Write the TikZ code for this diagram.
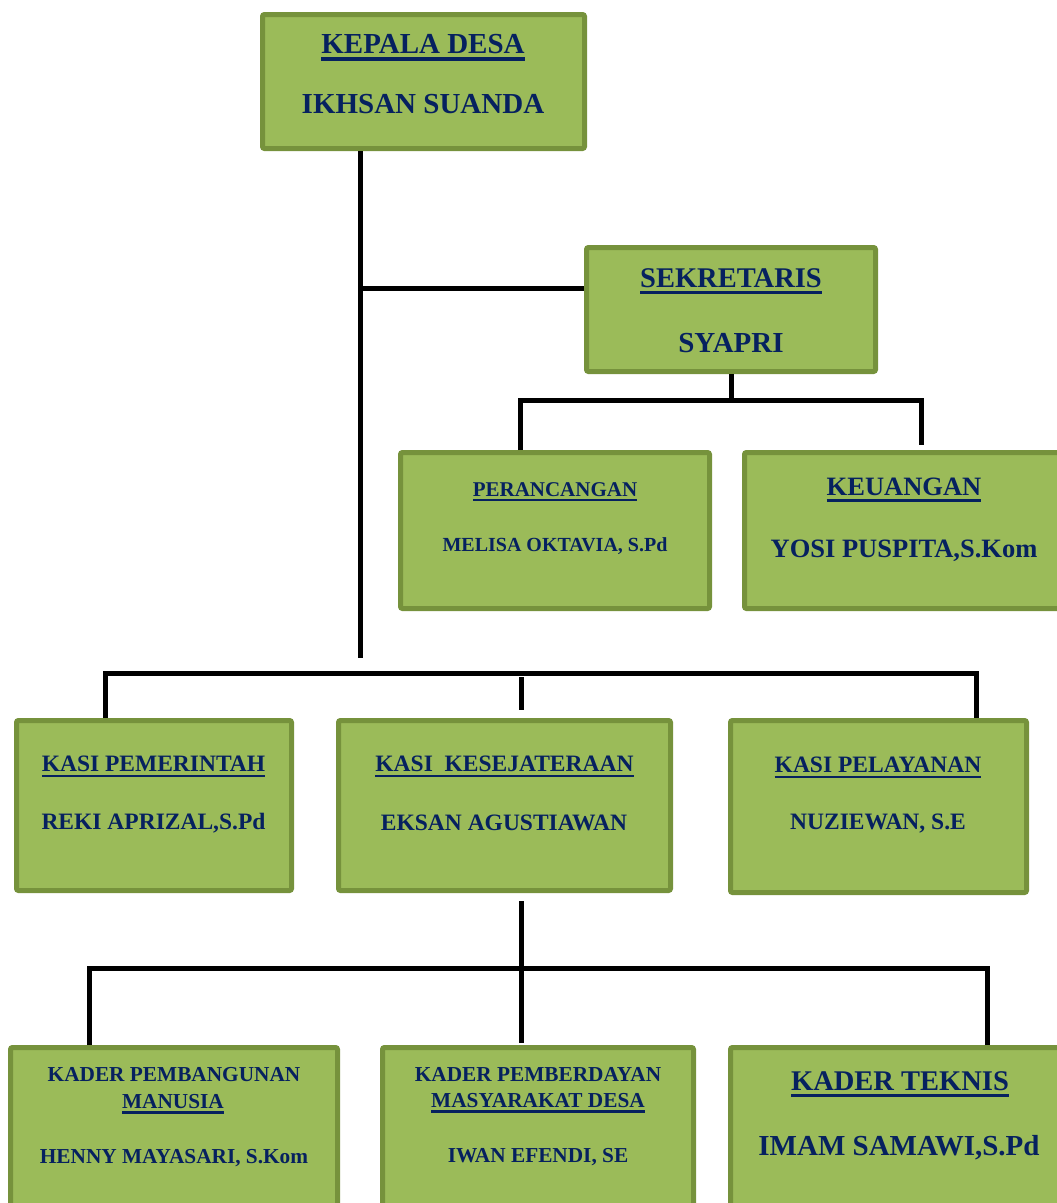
\documentclass[tikz,border=0pt]{standalone}
\usepackage{fontspec}
\setmainfont{Liberation Serif}
\usetikzlibrary{calc}
\definecolor{boxfill}{HTML}{9BBB59}
\definecolor{boxline}{HTML}{76923C}
\definecolor{navy}{HTML}{06215F}
\newcommand\fs[1]{\fontsize{#1}{#1}\selectfont\bfseries}
\newsavebox\ulbox
\newcommand\ulx[1]{\sbox\ulbox{#1}\rlap{\rule[-0.26em]{\wd\ulbox}{0.105em}}\usebox\ulbox}
\tikzset{
  box/.style={draw=boxline, fill=boxfill, line width=5pt, rounded corners=2pt, inner sep=0pt},
  conn/.style={line width=5pt, draw=black},
  txt/.style={anchor=base, text=navy, inner sep=0pt}
}
\begin{document}
\begin{tikzpicture}[x=1pt,y=-1pt]
\useasboundingbox (0,0) rectangle (1057,1203);
\clip (0,0) rectangle (1057,1203);
% boxes (outer extents minus line width)
\node[box, minimum width=322pt, minimum height=134pt] (kd) at (423.5,81.5) {};
\node[box, minimum width=289pt, minimum height=124pt] (sk) at (731,309.5) {};
\node[box, minimum width=309pt, minimum height=156pt] (pr) at (555,530.5) {};
\node[box, minimum width=323pt, minimum height=156pt] (ku) at (906,530.5) {};
\node[box, minimum width=275pt, minimum height=170pt] (kp) at (154,805.5) {};
\node[box, minimum width=332pt, minimum height=170pt] (kk) at (504.5,805.5) {};
\node[box, minimum width=296pt, minimum height=172pt] (kl) at (878.5,806.5) {};
\node[box, minimum width=327pt, minimum height=165pt] (b1) at (174,1130) {};
\node[box, minimum width=311pt, minimum height=165pt] (b2) at (538,1130) {};
\node[box, minimum width=337pt, minimum height=165pt] (b3) at (899,1130) {};
% connectors
\coordinate (kdx) at (360,658);
\draw[conn] (kd.south -| kdx) -- (kdx);
\coordinate (jsk) at (360,288);
\draw[conn] (jsk) -- (jsk -| sk.west);
\coordinate (skj) at (731,400);
\draw[conn] (sk.south) -- (skj);
\coordinate (prj) at (520,400);
\coordinate (kuj) at (921,400);
\coordinate (kue) at (921,445);
\draw[conn] (prj |- pr.north) -- (prj) -- (kuj) -- (kue);
\coordinate (kpj) at (105,673);
\coordinate (klj) at (976,673);
\draw[conn] (kpj |- kp.north) -- (kpj) -- (klj) -- (klj |- kl.north);
\coordinate (kka) at (521,677);
\coordinate (kkb) at (521,710);
\draw[conn] (kka) -- (kkb);
\coordinate (kkc) at (521,901);
\coordinate (kkd) at (521,1043);
\draw[conn] (kkc) -- (kkd);
\coordinate (b1j) at (89,968);
\coordinate (b3j) at (987,968);
\draw[conn] (b1j |- b1.north) -- (b1j) -- (b3j) -- (b3j |- b3.north);
% texts
\node[txt, font=\fs{29}] (kd1) at (423,53) {\ulx{KEPALA DESA}};
\node[txt, font=\fs{29}] (kd2) at (423,113) {IKHSAN SUANDA};
\node[txt, font=\fs{28.5}] (sk1) at (731,287) {\ulx{SEKRETARIS}};
\node[txt, font=\fs{29}] (sk2) at (731,352) {SYAPRI};
\node[txt, font=\fs{21}] (pr1) at (555,496) {\ulx{PERANCANGAN}};
\node[txt, font=\fs{20}] (pr2) at (555,551) {MELISA OKTAVIA, S.Pd};
\node[txt, font=\fs{26.5}] (ku1) at (904,495) {\ulx{KEUANGAN}};
\node[txt, font=\fs{26.5}] (ku2) at (904,557) {YOSI PUSPITA,S.Kom};
\node[txt, font=\fs{23.5}] (kp1) at (153.5,771) {\ulx{KASI PEMERINTAH}};
\node[txt, font=\fs{23.5}] (kp2) at (153.5,829) {REKI APRIZAL,S.Pd};
\node[txt, font=\fs{23.5}] (kk1) at (504.5,771) {\ulx{KASI\ \ KESEJATERAAN}};
\node[txt, font=\fs{23.5}] (kk2) at (504,830) {EKSAN AGUSTIAWAN};
\node[txt, font=\fs{23.5}] (kl1) at (878,772) {\ulx{KASI PELAYANAN}};
\node[txt, font=\fs{23.5}] (kl2) at (878,829) {NUZIEWAN, S.E};
\node[txt, font=\fs{21.3}] (b11) at (174,1081) {KADER PEMBANGUNAN};
\node[txt, font=\fs{21.3}] (b12) at (173,1108) {\ulx{MANUSIA}};
\node[txt, font=\fs{21.3}] (b13) at (174,1163) {HENNY MAYASARI, S.Kom};
\node[txt, font=\fs{21.3}] (b21) at (538,1081) {KADER PEMBERDAYAN};
\node[txt, font=\fs{21.3}] (b22) at (538,1107) {\ulx{MASYARAKAT DESA}};
\node[txt, font=\fs{21.3}] (b23) at (538,1162) {IWAN EFENDI, SE};
\node[txt, font=\fs{28.5}] (b31) at (900,1090) {\ulx{KADER TEKNIS}};
\node[txt, font=\fs{29}] (b32) at (899,1155) {IMAM SAMAWI,S.Pd};
\end{tikzpicture}
\end{document}
